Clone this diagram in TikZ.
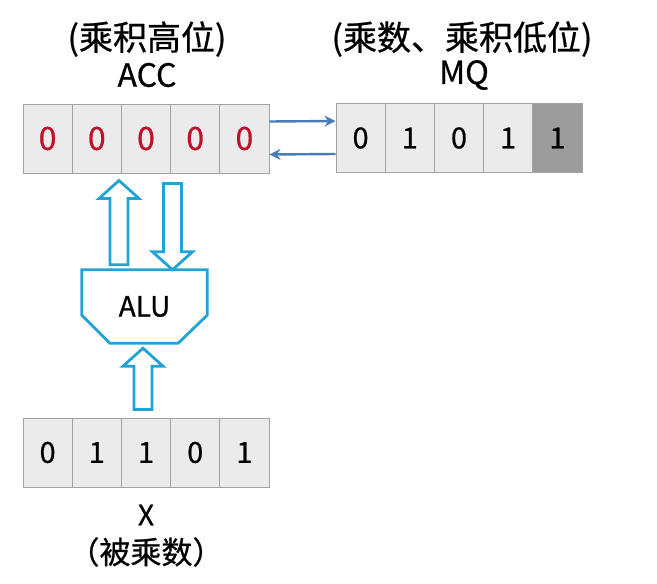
\documentclass[tikz,border=0pt]{standalone}
\usepackage{fontspec}
\setmainfont{Noto Sans CJK SC}[FakeBold=0.7]
\usetikzlibrary{calc,arrows.meta,positioning}

\definecolor{cellgray}{HTML}{EBEBEB}
\definecolor{celldark}{HTML}{9C9C9C}
\definecolor{cellline}{HTML}{A2A2A2}
\definecolor{bitred}{HTML}{C0102A}
\definecolor{linkblue}{HTML}{4A7DB5}
\definecolor{busblue}{HTML}{22A3D6}

% hollow bus arrow: #1 tail, #2 tip, #3 = 1 up / -1 down
\newcommand{\busarrow}[3]{%
  \draw[bus] let \p1=(#1), \p2=(#2) in
    ({\x1-9pt},\y1) -- ({\x1-9pt},{\y2-(#3)*18pt}) -- ({\x1-20pt},{\y2-(#3)*18pt})
    -- (\x1,\y2) -- ({\x1+20pt},{\y2-(#3)*18pt}) -- ({\x1+9pt},{\y2-(#3)*18pt})
    -- ({\x1+9pt},\y1) -- cycle;}

\begin{document}
\begin{tikzpicture}[
            x=1pt, y=-1pt,
            font=\fontsize{32pt}{36pt}\selectfont,
            cell/.style={rectangle, minimum width=49.2pt, minimum height=69pt, inner sep=0pt, draw=cellline, line width=1pt, fill=cellgray, text centered, font=\fontsize{29pt}{31pt}\selectfont},
            redbit/.style={cell, text=bitred, font=\fontsize{32pt}{34pt}\selectfont},
            lbl/.style={inner sep=0pt, text=black},
            title/.style={lbl, font=\fontsize{34pt}{36pt}\selectfont},
            link/.style={draw=linkblue, line width=2.4pt, -{Stealth[length=11pt,width=11pt]}},
            bus/.style={draw=busblue, line width=2.8pt, fill=white, line join=miter},
            alubox/.style={draw=busblue, line width=2.8pt, fill=white, line join=miter}
        ]
        \useasboundingbox (0,0) rectangle (657,584);

        % Registers
        \foreach \b [count=\i] in {0,0,0,0,0}
            \node (acc\i) [redbit] at ({47.6+(\i-1)*49.2}, 138.5) {\b};
        \foreach \b [count=\i] in {0,1,0,1,1}
            \node (mq\i) [cell] at ({360.6+(\i-1)*49.2}, 138) {\b};
        \node (mq5) [cell, fill=celldark] at (557.4, 138) {1};
        \foreach \b [count=\i] in {0,1,1,0,1}
            \node (x\i) [cell] at ({47.6+(\i-1)*49.2}, 452.5) {\b};

        % Labels
        \node (acctitle) [title] at (147, 39) {(乘积高位)};
        \node (accname) [lbl] at (147, 75) {ACC};
        \node (mqtitle) [title] at (462, 39) {(乘数、乘积低位)};
        \node (mqname) [lbl] at (464, 75) {MQ};
        \node (xname) [lbl, font=\fontsize{28pt}{30pt}\selectfont] at (146, 515) {X};
        \node (xtitle) [lbl, font=\fontsize{31pt}{33pt}\selectfont] at (146, 552) {（被乘数）};

        % ALU
        \node (alu) [minimum width=125pt, minimum height=73pt, inner sep=0pt] at (144.5, 306.5) {};
        \draw[alubox] (alu.north west) -- (alu.north east) -- ([yshift=28pt]alu.south east)
            -- ([xshift=-29pt]alu.south east) -- ([xshift=28pt]alu.south west)
            -- ([yshift=28pt]alu.south west) -- cycle;
        \node (alutext) [lbl, font=\fontsize{28pt}{30pt}\selectfont] at (alu) {ALU};

        % Links
        \draw [link] ([yshift=-18pt]acc5.north east) -- ([yshift=-18pt]mq1.north west);
        \draw [link] ([yshift=19pt]mq1.south west) -- ([yshift=19pt]acc5.south east);

        \busarrow{[xshift=-25.5pt,yshift=5pt]alu.north}{[xshift=-27pt,yshift=-7pt]acc3.south}{1}
        \busarrow{[xshift=26.5pt,yshift=-10pt]acc3.south}{[xshift=26.5pt]alu.north}{-1}
        \busarrow{[xshift=-3pt,yshift=8pt]x3.north}{[xshift=-3pt,yshift=-5pt]alu.south}{1}

    \end{tikzpicture}
\end{document}
